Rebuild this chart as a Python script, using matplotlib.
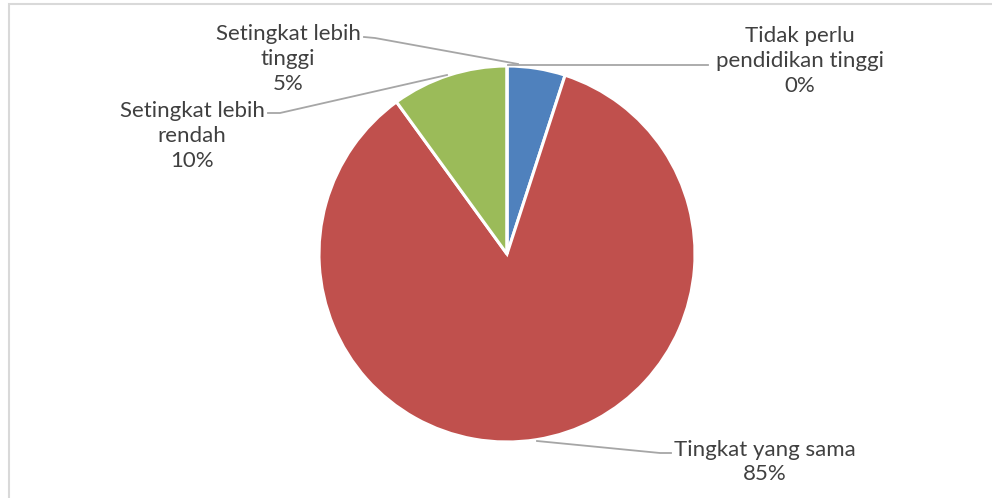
import matplotlib.pyplot as plt
from matplotlib.patches import Rectangle

labels = ["Setingkat lebih\ntinggi", "Tingkat yang sama", "Setingkat lebih\nrendah", "Tidak perlu\npendidikan tinggi"]
values = [5, 85, 10, 0]
colors = ["#4F81BD", "#C0504D", "#9BBB59", "#8064A2"]

W, H = 992, 498
fig = plt.figure(figsize=(W / 100, H / 100), dpi=100)
ax = fig.add_axes([0, 0, 1, 1])

# chart border (only top/left visible)
ax.add_patch(Rectangle((9, -10), W + 20, H - 4 + 10, fill=False, edgecolor="#d9d9d9", lw=1.5))

ax.pie(values, colors=colors, startangle=90, counterclock=False,
       center=(507, H - 254), radius=188, frame=True,
       wedgeprops=dict(edgecolor="white", linewidth=2.2))
ax.set_xlim(0, W)
ax.set_ylim(0, H)
ax.set_aspect("equal")
ax.axis("off")

txt = dict(fontsize=16, color="#404040", family=["Lato", "DejaVu Sans"],
           ha="center", va="center", linespacing=1.3)
ax.text(288, H - 59, f"{labels[0]}\n{values[0]}%", **txt)
ax.text(765, H - 462, f"{labels[1]}\n{values[1]}%", **txt)
ax.text(192, H - 136, f"{labels[2]}\n{values[2]}%", **txt)
ax.text(800, H - 61, f"{labels[3]}\n{values[3]}%", **txt)

lc = dict(color="#a6a6a6", lw=1.3)
ax.plot([364, 375, 518], [H - 37, H - 38, H - 64], **lc)
ax.plot([671, 660, 537], [H - 453, H - 453, H - 441], **lc)
ax.plot([268, 280, 447], [H - 113, H - 113, H - 75], **lc)
ax.plot([508, 708], [H - 65, H - 65], **lc)

fig.savefig("out.png", dpi=100)
